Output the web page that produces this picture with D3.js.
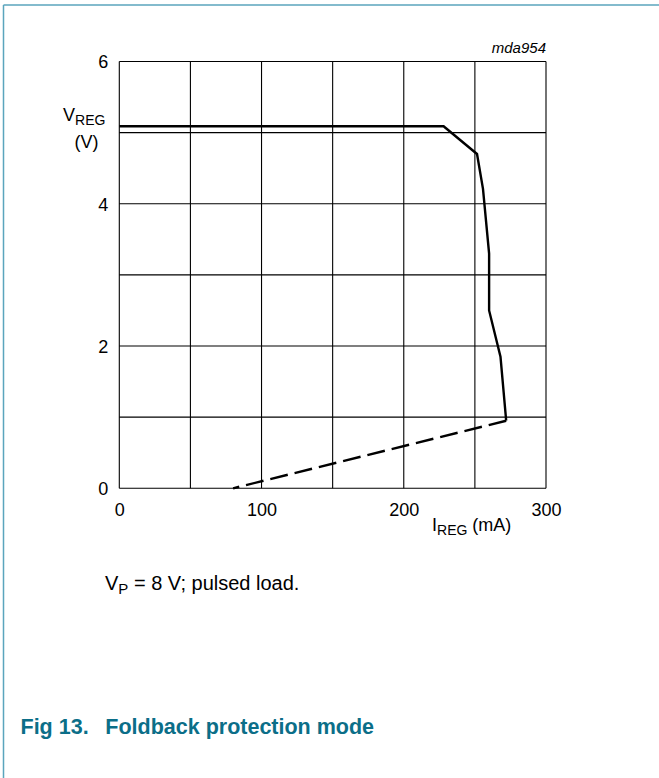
<!DOCTYPE html>
<html>
<head>
<meta charset="utf-8">
<script src="https://cdn.jsdelivr.net/npm/d3@7/dist/d3.min.js"></script>
<style>
  body { margin: 0; background: #fff; }
  svg { display: block; font-family: "Liberation Sans", Arial, sans-serif; }
</style>
</head>
<body>
<svg id="chart" width="659" height="778"></svg>
<script>
// ---- data ----
const xTicks = [0, 100, 200, 300];
const yTicks = [0, 2, 4, 6];
const xGrid = [0, 50, 100, 150, 200, 250, 300];
const yGrid = [0, 1, 2, 3, 4, 5, 6];
// solid curve: I_REG (mA), V_REG (V)
const solidI = [0, 228, 251.5, 255.7, 260, 260, 268, 272];
const solidV = [5.09, 5.09, 4.70, 4.21, 3.3, 2.5, 1.85, 0.95];
// dashed foldback return
const dashI = [272, 80];
const dashV = [0.95, 0];

// ---- layout ----
const svg = d3.select("#chart");
const x = d3.scaleLinear().domain([0, 300]).range([119.3, 546]);
const y = d3.scaleLinear().domain([0, 6]).range([488.3, 61.5]);

svg.append("rect").attr("width", 659).attr("height", 778).attr("fill", "#fff");

// page frame (teal)
svg.append("line").attr("x1", 3.5).attr("x2", 3.5).attr("y1", 5).attr("y2", 778)
  .attr("stroke", "#5aa5bd").attr("stroke-width", 1.5);
svg.append("line").attr("x1", 3.5).attr("x2", 659).attr("y1", 5).attr("y2", 5)
  .attr("stroke", "#5aa5bd").attr("stroke-width", 1.5);

// grid
const g = svg.append("g");
g.selectAll(".vg").data(xGrid).join("line")
  .attr("x1", d => x(d)).attr("x2", d => x(d))
  .attr("y1", y(0)).attr("y2", y(6))
  .attr("stroke", "#000").attr("stroke-width", 1.1);
g.selectAll(".hg").data(yGrid).join("line")
  .attr("y1", d => y(d)).attr("y2", d => y(d))
  .attr("x1", x(0)).attr("x2", x(300))
  .attr("stroke", "#000").attr("stroke-width", 1.1);

// axes tick labels
const xAxis = d3.axisBottom(x).tickValues(xTicks).tickSize(0).tickPadding(0).tickFormat(d3.format("d"));
const xa = svg.append("g").attr("transform", `translate(0,${y(0)})`).call(xAxis);
xa.select(".domain").remove();
xa.selectAll("text").attr("font-size", 18).attr("fill", "#000")
  .attr("font-family", "Liberation Sans, Arial, sans-serif")
  .attr("dy", null).attr("y", 27.4);

const yAxis = d3.axisLeft(y).tickValues(yTicks).tickSize(0).tickPadding(11).tickFormat(d3.format("d"));
const ya = svg.append("g").attr("transform", `translate(${x(0)},0)`).call(yAxis);
ya.select(".domain").remove();
ya.selectAll("text").attr("font-size", 18).attr("fill", "#000")
  .attr("font-family", "Liberation Sans, Arial, sans-serif")
  .attr("dy", "0.35em");

// curves
const line = d3.line().x(d => x(d[0])).y(d => y(d[1]));
svg.append("path").datum(solidI.map((v, i) => [v, solidV[i]]))
  .attr("d", line).attr("fill", "none").attr("stroke", "#000")
  .attr("stroke-width", 2.4).attr("stroke-linejoin", "miter");
svg.append("path").datum(dashI.map((v, i) => [v, dashV[i]]))
  .attr("d", line).attr("fill", "none").attr("stroke", "#000")
  .attr("stroke-width", 2.4).attr("stroke-dasharray", "18,7");

// axis titles
const vt = svg.append("text").attr("x", 63).attr("y", 121).attr("font-size", 18).attr("fill", "#000");
vt.append("tspan").text("V");
vt.append("tspan").attr("font-size", 14).attr("dy", 4).text("REG");
svg.append("text").attr("x", 86.5).attr("y", 148).attr("font-size", 18)
  .attr("text-anchor", "middle").attr("fill", "#000").text("(V)");

const it = svg.append("text").attr("x", 432).attr("y", 531).attr("font-size", 18).attr("fill", "#000");
it.append("tspan").text("I");
it.append("tspan").attr("font-size", 14).attr("dy", 4).text("REG");
it.append("tspan").attr("dy", -4).text(" (mA)");

svg.append("text").attr("x", 546).attr("y", 53).attr("font-size", 15)
  .attr("font-style", "italic").attr("text-anchor", "end").attr("fill", "#000").text("mda954");

// note
const nt = svg.append("text").attr("x", 105).attr("y", 589.5).attr("font-size", 20).attr("fill", "#000");
nt.append("tspan").text("V");
nt.append("tspan").attr("font-size", 15).attr("dy", 4).text("P");
nt.append("tspan").attr("dy", -4).text(" = 8 V; pulsed load.");

// figure caption
svg.append("text").attr("x", 20.5).attr("y", 734).attr("font-size", 21.5).attr("font-weight", "bold")
  .attr("fill", "#0b6e88").text("Fig 13.");
svg.append("text").attr("x", 105.3).attr("y", 734).attr("font-size", 21.5).attr("font-weight", "bold")
  .attr("fill", "#0b6e88").text("Foldback protection mode");
</script>
</body>
</html>
